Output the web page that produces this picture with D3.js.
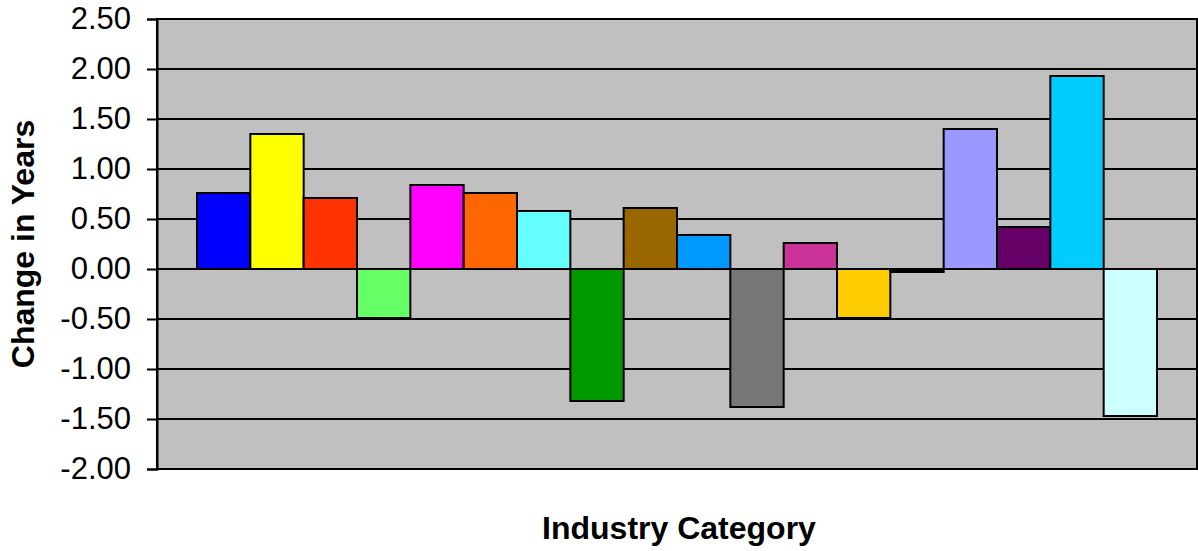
<!DOCTYPE html>
<html>
<head>
<meta charset="utf-8">
<script src="https://cdn.jsdelivr.net/npm/d3@7"></script>
<style>
html,body{margin:0;padding:0;background:#fff;}
svg{display:block;}
</style>
</head>
<body>
<svg id="chart" width="1198" height="551"></svg>
<script>
const series = ["S1","S2","S3","S4","S5","S6","S7","S8","S9","S10","S11","S12","S13","S14","S15","S16","S17","S18"];
const values = [0.76, 1.35, 0.71, -0.49, 0.84, 0.76, 0.58, -1.32, 0.61, 0.34, -1.38, 0.26, -0.49, -0.03, 1.40, 0.42, 1.93, -1.47];
const colors = ["#0000FF","#FFFF00","#FF3300","#66FF66","#FF00FF","#FF6600","#66FFFF","#009900","#996600","#0099FF","#777777","#CC3399","#FFCC00","#000000","#9999FF","#660066","#00CCFF","#CCFFFF"];
const yTicks = [-2.0, -1.5, -1.0, -0.5, 0.0, 0.5, 1.0, 1.5, 2.0, 2.5];
const yTitle = "Change in Years";
const xTitle = "Industry Category";

const svg = d3.select("#chart");
const plot = {left: 157, right: 1197, top: 19, bottom: 469};
const font = "'Liberation Sans', Arial, sans-serif";

const y = d3.scaleLinear().domain([-2, 2.5]).range([plot.bottom, plot.top]);
// one category with 18 series; gap width 150%
const outer = d3.scaleBand().domain(["cat"]).range([plot.left, plot.right]).paddingInner(0).paddingOuter(0);
const catW = outer.bandwidth();
const barW = catW / (series.length + 1.5);
const x = d3.scaleBand().domain(series)
  .range([plot.left + barW*0.75, plot.right - barW*0.75]).padding(0);

svg.append("rect").attr("x", plot.left).attr("y", plot.top)
  .attr("width", plot.right - plot.left).attr("height", plot.bottom - plot.top)
  .attr("fill", "#C0C0C0");

// gridlines
svg.append("g").selectAll("line").data(yTicks).join("line")
  .attr("x1", plot.left).attr("x2", plot.right)
  .attr("y1", d => y(d)).attr("y2", d => y(d))
  .attr("stroke", "#000").attr("stroke-width", 1.8);

// bars
svg.append("g").selectAll("rect").data(values).join("rect")
  .attr("x", (d,i) => x(series[i]))
  .attr("width", x.bandwidth())
  .attr("y", d => y(Math.max(0, d)))
  .attr("height", d => Math.abs(y(d) - y(0)))
  .attr("fill", (d,i) => colors[i])
  .attr("stroke", "#000").attr("stroke-width", 2);

// plot border
svg.append("rect").attr("x", plot.left).attr("y", plot.top)
  .attr("width", plot.right - plot.left).attr("height", plot.bottom - plot.top)
  .attr("fill", "none").attr("stroke", "#000").attr("stroke-width", 2);

// y axis
const fmt = d => d3.format(".2f")(d).replace("\u2212", "-");
const yAxis = d3.axisLeft(y).tickValues(yTicks).tickFormat(fmt).tickSize(10).tickPadding(16);
const ga = svg.append("g").attr("transform", `translate(${plot.left},0)`).call(yAxis);
ga.select(".domain").attr("stroke", "#000").attr("stroke-width", 2);
ga.selectAll(".tick line").attr("stroke", "#000").attr("stroke-width", 2);
ga.selectAll(".tick text").attr("font-family", font).attr("font-size", 31).attr("fill", "#000");

// titles
svg.append("text").attr("transform", `translate(34,${(plot.top+plot.bottom)/2}) rotate(-90)`)
  .attr("text-anchor", "middle").attr("font-family", font).attr("font-weight", "bold")
  .attr("font-size", 32).text(yTitle);
svg.append("text").attr("x", 679).attr("y", 539)
  .attr("text-anchor", "middle").attr("font-family", font).attr("font-weight", "bold")
  .attr("font-size", 32).text(xTitle);
</script>
</body>
</html>
